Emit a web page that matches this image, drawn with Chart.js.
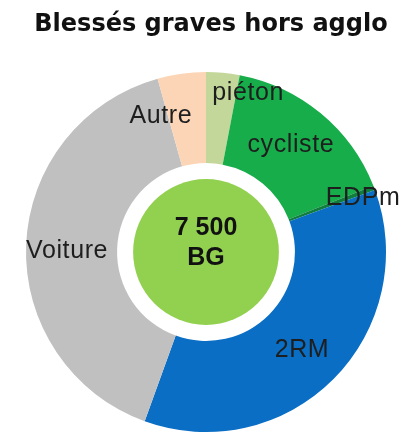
<!DOCTYPE html>
<html>
<head>
<meta charset="utf-8">
<script src="https://cdn.jsdelivr.net/npm/chart.js@4"></script>
<style>
  html, body { margin: 0; padding: 0; background: #ffffff; }
  #wrap { width: 419px; height: 436px; position: relative; }
</style>
</head>
<body>
<div id="wrap"><canvas id="c" width="419" height="436"></canvas></div>
<script>
// ---- data ----
const titleText = "Blessés graves hors agglo";
const categories = ["piéton", "cycliste", "EDPm", "2RM", "Voiture", "Autre"];
const values = [225, 1200, 30, 2710, 3010, 325];
const centerLines = ["7 500", "BG"];

// ---- styles ----
const colors = ["#c4d79b", "#17ad4b", "#0f7d3c", "#0a6ec4", "#c0c0c0", "#fbd5b5"];
// label anchor: angle (deg, clockwise from top) and radius as fraction of outer radius
const labelPos = [
  { a: 14.7, r: 0.922 },
  { a: 38.0, r: 0.766 },
  { a: 70.4, r: 0.926 },
  { a: 135.0, r: 0.754 },
  { a: 271.2, r: 0.772 },
  { a: 341.9, r: 0.807 }
];

const decoPlugin = {
  id: "deco",
  afterDatasetsDraw(chart) {
    const ctx = chart.ctx;
    const meta = chart.getDatasetMeta(0);
    const arc = meta.data[0];
    const cx = arc.x, cy = arc.y, R = arc.outerRadius;

    // center disc
    ctx.save();
    ctx.beginPath();
    ctx.arc(cx, cy, R * 0.405, 0, Math.PI * 2);
    ctx.fillStyle = "#92d050";
    ctx.fill();

    // center text
    ctx.fillStyle = "#111111";
    ctx.textAlign = "center";
    ctx.textBaseline = "alphabetic";
    ctx.font = "bold 25px 'Liberation Sans', Arial, sans-serif";
    ctx.fillText(centerLines[0], cx, cy - 26 + 9);
    ctx.fillText(centerLines[1], cx, cy + 3.5 + 9);

    // slice labels
    ctx.font = "25px 'Liberation Sans', Arial, sans-serif";
    if ("letterSpacing" in ctx) ctx.letterSpacing = "0.6px";
    ctx.fillStyle = "#1e1e1e";
    categories.forEach((lab, i) => {
      const p = labelPos[i];
      const ang = p.a * Math.PI / 180;
      const x = cx + p.r * R * Math.sin(ang);
      const y = cy - p.r * R * Math.cos(ang);
      ctx.fillText(lab, x, y + 9);
    });
    if ("letterSpacing" in ctx) ctx.letterSpacing = "0px";

    // title
    ctx.font = "bold 24px 'DejaVu Sans', Verdana, sans-serif";
    ctx.fillStyle = "#111111";
    ctx.fillText(titleText, 211, 31);
    ctx.restore();
  }
};

new Chart(document.getElementById("c"), {
  type: "doughnut",
  data: {
    labels: categories,
    datasets: [{
      data: values,
      backgroundColor: colors,
      borderWidth: 0,
      hoverOffset: 0
    }]
  },
  options: {
    responsive: false,
    animation: false,
    cutout: "49.4%",
    rotation: 0,
    layout: { padding: { top: 72, bottom: 4, left: 26, right: 33 } },
    plugins: {
      legend: { display: false },
      title: { display: false },
      tooltip: { enabled: false }
    }
  },
  plugins: [decoPlugin]
});
</script>
</body>
</html>
